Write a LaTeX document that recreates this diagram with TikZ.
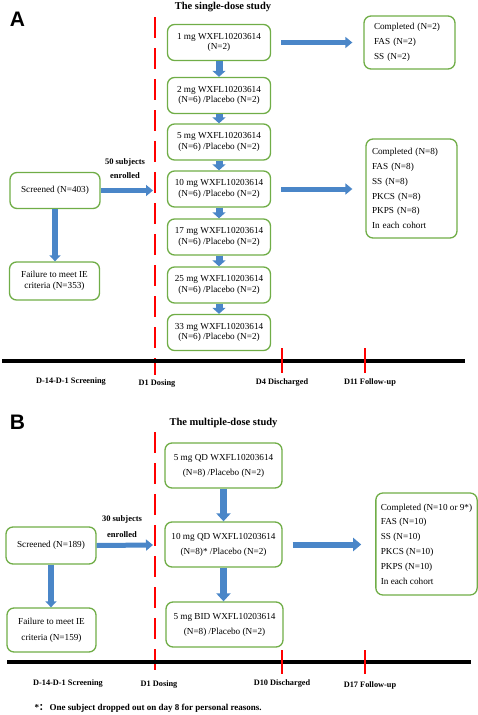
\documentclass[tikz,border=0pt]{standalone}
\usepackage{fontspec}
\setmainfont{Liberation Serif}
\newfontfamily\labelfont{Liberation Sans}
\newfontfamily\cjk{Noto Sans CJK SC}
\usetikzlibrary{arrows.meta,calc}
\definecolor{boxgreen}{HTML}{70AD47}
\definecolor{arrblue}{HTML}{4A86C8}
\begin{document}
\begin{tikzpicture}[x=1pt,y=-1pt,
  gbox/.style={draw=boxgreen, line width=1.3pt, rounded corners=7pt, align=center,
    font=\fontsize{9.2}{10.5}\selectfont, inner sep=0pt},
  dosebox/.style={gbox, minimum width=103pt, minimum height=36pt},
  mdosebox/.style={gbox, minimum width=117pt, minimum height=45pt, font=\fontsize{9.2}{15}\selectfont},
  sidebox/.style={gbox, minimum width=90pt, minimum height=36pt},
  resbox/.style={gbox, align=left, font=\fontsize{9.2}{14.8}\selectfont, inner ysep=0pt},
  harrow/.style={draw=arrblue, line width=5pt, -{Triangle[length=7pt,width=11pt]}},
  varrow/.style={draw=arrblue, line width=7pt, -{Triangle[length=6pt,width=13pt]}},
  sarrow/.style={draw=arrblue, line width=5.5pt, -{Triangle[length=6pt,width=11pt]}},
  reddash/.style={draw=red, line width=2.8pt, dash pattern=on 21pt off 10pt},
  redtick/.style={draw=red, line width=2.6pt},
  timeline/.style={draw=black, line width=4pt},
  tlabel/.style={font=\bfseries\fontsize{8.3}{10}\selectfont},
  enlabel/.style={font=\bfseries\fontsize{8.5}{14}\selectfont, align=center},
  title/.style={font=\bfseries\fontsize{10.5}{12}\selectfont},
  panel/.style={font=\labelfont\bfseries\fontsize{21}{24}\selectfont}
]
\useasboundingbox (0,0) rectangle (477,715);

% ================= Panel A =================
\node[panel] (pA) at (17.5,19.5) {A};
\node[title] (tA) at (223,7) {The single-dose study};

\coordinate (dAtop) at (155,17);
\coordinate (dAbot) at (155,375);
\draw[reddash] (dAtop) -- (dAbot);

\node[dosebox] (a1) at (219,42.5) {1 mg WXFL10203614\\(N=2)};
\node[dosebox] (a2) at (219,95.5) {2 mg WXFL10203614\\(N=6) /Placebo (N=2)};
\node[dosebox] (a3) at (219,142) {5 mg WXFL10203614\\(N=6) /Placebo (N=2)};
\node[dosebox] (a4) at (219,189) {10 mg WXFL10203614\\(N=6) /Placebo (N=2)};
\node[dosebox] (a5) at (219,237) {17 mg WXFL10203614\\(N=6) /Placebo (N=2)};
\node[dosebox] (a6) at (219,285) {25 mg WXFL10203614\\(N=6) /Placebo (N=2)};
\node[dosebox] (a7) at (219,332.5) {33 mg WXFL10203614\\(N=6) /Placebo (N=2)};

\foreach \i/\j in {a1/a2,a2/a3,a3/a4,a4/a5,a5/a6,a6/a7}
  \draw[varrow] (\i.south) -- (\j.north);

\node[resbox, minimum width=91pt, minimum height=53pt, text width=71pt, inner xsep=10pt] (ra1) at (409.5,42.5)
  {Completed (N=2)\\FAS (N=2)\\SS (N=2)};
\node[resbox, minimum width=91pt, minimum height=99pt, text width=79pt, inner xsep=6pt] (ra2) at (411.5,188.5)
  {Completed (N=8)\\FAS (N=8)\\SS (N=8)\\PKCS (N=8)\\PKPS (N=8)\\In each cohort};

\draw[harrow] ([xshift=10pt]a1.east) -- ([xshift=-11pt]a1.east -| ra1.west);
\draw[harrow] ([xshift=10pt]a4.east) -- ([xshift=-13pt]a4.east -| ra2.west);

\node[sidebox] (sA) at (55,190.5) {Screened (N=403)};
\node[sidebox, minimum height=38pt] (fA) at (54.5,281) {Failure to meet IE\\criteria (N=353)};
\draw[sarrow] (sA.south) -- (sA.south |- fA.north);
\coordinate (eA) at (153,190.5);
\draw[harrow] (sA.east) -- (eA);
\node[enlabel] (nA) at (125,169) {50 subjects\\enrolled};

\coordinate (tlA1) at (2,361);
\coordinate (tlA2) at (465,361);
\draw[timeline] (tlA1) -- (tlA2);
\draw[redtick] (282,348) -- (282,373);
\draw[redtick] (365,348) -- (365,373);

\node[tlabel] at (71,382) {D-14-D-1 Screening};
\node[tlabel] at (157,384) {D1 Dosing};
\node[tlabel] at (282,383) {D4 Discharged};
\node[tlabel] at (370,382) {D11 Follow-up};

% ================= Panel B =================
\node[panel] (pB) at (17.5,422) {B};
\node[title] (tB) at (223.5,423) {The multiple-dose study};

\coordinate (dBtop) at (155,432);
\coordinate (dBbot) at (155,673);
\draw[reddash] (dBtop) -- (dBbot);

\node[mdosebox] (b1) at (223.5,465.5) {5 mg QD WXFL10203614\\(N=8) /Placebo (N=2)};
\node[mdosebox] (b2) at (223.5,544.5) {10 mg QD WXFL10203614\\(N=8)* /Placebo (N=2)};
\node[mdosebox] (b3) at (224.5,624.5) {5 mg BID WXFL10203614\\(N=8) /Placebo (N=2)};
\draw[varrow, -{Triangle[length=8pt,width=14pt]}] (b1.south) -- (b2.north);
\draw[varrow, -{Triangle[length=8pt,width=14pt]}] (b2.south) -- (b2.south |- b3.north);

\node[resbox, minimum width=97pt, minimum height=102pt, inner xsep=5pt] (rb) at (426.5,544)
  {Completed (N=10 or 9*)\\FAS (N=10)\\SS (N=10)\\PKCS (N=10)\\PKPS (N=10)\\In each cohort};
\draw[harrow, line width=6pt, -{Triangle[length=8pt,width=13pt]}] ([xshift=10pt]b2.east) -- ([xshift=-14pt]b2.east -| rb.west);

\node[sidebox, minimum height=37pt] (sB) at (51,545.5) {Screened (N=189)};
\node[sidebox, minimum width=89pt, minimum height=44pt, font=\fontsize{9.2}{16}\selectfont] (fB) at (51.5,630) {Failure to meet IE\\criteria (N=159)};
\draw[sarrow] (sB.south) -- (sB.south |- fB.north);
\coordinate (eB) at (153,545);
\draw[harrow] (sB.east) -- (eB);
\node[enlabel, font=\bfseries\fontsize{8.5}{16}\selectfont] (nB) at (122,527) {30 subjects\\enrolled};

\coordinate (tlB1) at (7,662);
\coordinate (tlB2) at (471,662);
\draw[timeline] (tlB1) -- (tlB2);
\draw[redtick] (282,650) -- (282,674);
\draw[redtick] (365,650) -- (365,674);

\node[tlabel] at (68,684) {D-14-D-1 Screening};
\node[tlabel] at (159,685) {D1 Dosing};
\node[tlabel] at (282,684) {D10 Discharged};
\node[tlabel] at (370,685) {D17 Follow-up};

\node[anchor=west, font=\bfseries\fontsize{9}{11}\selectfont] (foot) at (31,708)
  {*{\cjk ：}\,One subject dropped out on day 8 for personal reasons.};
\end{tikzpicture}
\end{document}
